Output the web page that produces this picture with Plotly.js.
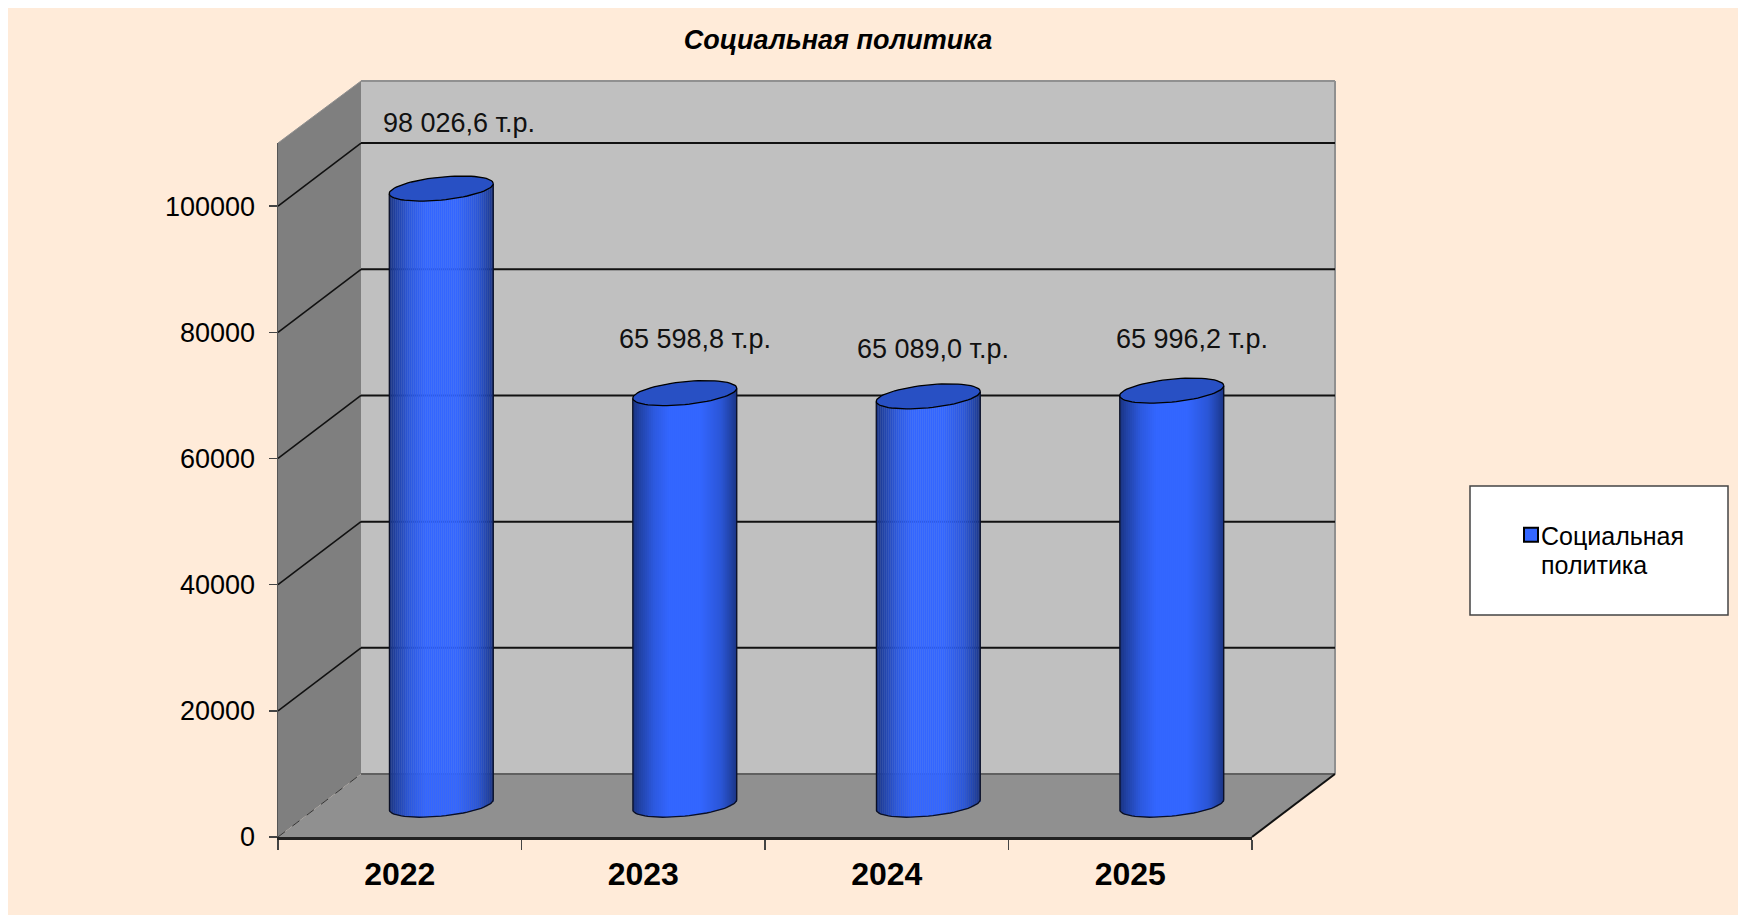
<!DOCTYPE html>
<html>
<head>
<meta charset="utf-8">
<script src="https://cdn.plot.ly/plotly-3.0.1.min.js"></script>
<style>html,body{margin:0;padding:0;background:#fff}#chart{width:1738px;height:916px}</style>
</head>
<body>
<div id="chart"></div>
<script>
// ---- data ----
const categories = ['2022', '2023', '2024', '2025'];
const values = [98026.6, 65598.8, 65089.0, 65996.2];
const labelTexts = ['98 026,6 т.р.', '65 598,8 т.р.', '65 089,0 т.р.', '65 996,2 т.р.'];
const gridValues = [0, 20000, 40000, 60000, 80000, 100000];
const seriesName = 'Социальная<br>политика';
const chartTitle = 'Социальная политика';
const labelShiftX = [18, 10, 5, 20];
const labelShiftY = [66, 54, 47, 52];

// ---- geometry (canvas pixels) ----
const W = 1738, H = 916;
const front = {x0: 278, x1: 1252, y0: 837, yTop: 143};
const depth = {dx: 83, dy: 63};
const backTop = 81;
const midPlane = {dx: 41.5, y0: 807, pad: 40};
const yMax = 110000;
const pxPerUnit = (front.y0 - front.yTop) / yMax;
const px = x => x / W;
const py = y => 1 - y / H;
const font = 'Liberation Sans, Arial, sans-serif';

// cylinder geometry
const cylWidth = 0.427;                 // in category units
const capRy = 11.5 / pxPerUnit;         // ellipse half height in data units
const tilt = 5 / pxPerUnit;             // rise at right end, data units
const bottomLift = 2.3 / pxPerUnit;

function shade(t) { // t in 0..1 across the cylinder
  const stops = [[0, 0.5], [0.06, 0.64], [0.2, 0.87], [0.35, 1], [0.65, 1], [0.85, 0.84], [0.95, 0.64], [1, 0.52]];
  let k = 1;
  for (let i = 1; i < stops.length; i++) {
    if (t <= stops[i][0]) {
      const a = stops[i - 1], b = stops[i];
      k = a[1] + (b[1] - a[1]) * (t - a[0]) / (b[0] - a[0]);
      break;
    }
  }
  return `rgb(${Math.round(0x33 * k)},${Math.round(0x66 * k)},${Math.round(0xff * k)})`;
}

const idx = categories.map((_, i) => i);
const traces = [];

// real series on the front-plane axes (gives category axis and legend entry)
traces.push({
  type: 'bar', x: categories, y: values, width: 0, name: seriesName, showlegend: true,
  marker: {color: '#3366ff', line: {width: 0}},
  xaxis: 'x', yaxis: 'y', hoverinfo: 'skip'
});

// cylinder bodies as gradient strips on the mid-depth plane
const N = 52;
for (let s = 0; s < N; s++) {
  const t0 = s / N, t1 = (s + 1) / N, tm = (t0 + t1) / 2;
  const d = 2 * tm - 1;
  const topOff = tilt * d;
  const botOff = tilt * d - capRy * Math.sqrt(Math.max(0, 1 - d * d)) + bottomLift;
  traces.push({
    type: 'bar', x: idx, y: values.map(v => v + topOff - botOff), base: values.map(() => botOff),
    offset: -cylWidth / 2 + t0 * cylWidth, width: cylWidth / N * 1.15,
    marker: {color: shade(tm), line: {width: 0}},
    xaxis: 'x2', yaxis: 'y2', showlegend: false, hoverinfo: 'skip'
  });
}

// outlines and caps
const TH = [];
for (let a = 0; a <= 72; a++) TH.push(a / 72 * 2 * Math.PI);
values.forEach((v, i) => {
  const xs = [], ys = [];
  xs.push(i - cylWidth / 2); ys.push(v - tilt);
  for (let a = 0; a <= 36; a++) {
    const th = Math.PI * a / 36;
    const c = -Math.cos(th);
    xs.push(i + c * cylWidth / 2);
    ys.push(tilt * c - capRy * Math.sin(th) + bottomLift);
  }
  xs.push(i + cylWidth / 2); ys.push(v + tilt);
  traces.push({type: 'scatter', mode: 'lines', x: xs, y: ys, line: {color: '#0a0f24', width: 1.3},
    xaxis: 'x2', yaxis: 'y2', showlegend: false, hoverinfo: 'skip'});
  traces.push({
    type: 'scatter', mode: 'lines', fill: 'toself', fillcolor: '#2850c4',
    x: TH.map(th => i + Math.cos(th) * cylWidth / 2),
    y: TH.map(th => v + tilt * Math.cos(th) + capRy * Math.sin(th)),
    line: {color: '#000', width: 1.3},
    xaxis: 'x2', yaxis: 'y2', showlegend: false, hoverinfo: 'skip'
  });
});

// ---- walls ----
function poly(pts, fill, line) {
  return {
    type: 'path', xref: 'paper', yref: 'paper', layer: 'below',
    path: 'M' + pts.map(p => px(p[0]) + ',' + py(p[1])).join('L') + 'Z',
    fillcolor: fill, line: line || {width: 0}
  };
}
function seg(x0, y0, x1, y1, color, width, dash) {
  return {
    type: 'line', xref: 'paper', yref: 'paper', layer: 'below',
    x0: px(x0), y0: py(y0), x1: px(x1), y1: py(y1),
    line: {color: color, width: width, dash: dash || 'solid'}
  };
}
const backL = front.x0 + depth.dx, backR = front.x1 + depth.dx;
const backBottom = front.y0 - depth.dy;
const shapes = [
  {type: 'rect', xref: 'paper', yref: 'paper', layer: 'below', x0: px(8), x1: 1, y0: py(915), y1: py(8),
    fillcolor: '#ffebd9', line: {width: 0}},
  poly([[backL, backTop], [backR, backTop], [backR, backBottom], [backL, backBottom]], '#c0c0c0'),
  poly([[front.x0, front.yTop], [backL, backTop], [backL, backBottom], [front.x0, front.y0]], '#7f7f7f'),
  poly([[front.x0, front.y0], [backL, backBottom], [backR, backBottom], [front.x1, front.y0]], '#909090'),
  seg(backL, backTop, backR, backTop, '#909090', 2),
  seg(backR, backTop, backR, backBottom, '#909090', 2),
  seg(front.x0, front.yTop, backL, backTop, '#909090', 1),
  seg(backL, backBottom, backR, backBottom, '#606060', 2),
  seg(front.x0, front.y0, backL, backBottom, '#333333', 1, 'dash'),
  seg(front.x1, front.y0, backR, backBottom, '#111111', 2),
  {type: 'rect', xref: 'paper', yref: 'paper', layer: 'below', x0: px(1470), x1: px(1728), y0: py(615), y1: py(486),
    fillcolor: '#ffffff', line: {color: '#444444', width: 1.5}}
];
gridValues.slice(1).forEach(v => {
  const yF = front.y0 - v * pxPerUnit;
  const yB = yF - depth.dy;
  shapes.push(seg(backL, yB, backR, yB, '#111111', 2));
  shapes.push(seg(front.x0, yF, backL, yB, '#111111', 1.6));
});

// ---- value labels ----
const annotations = values.map((v, i) => ({
  xref: 'x2', yref: 'y2', x: i, y: v, text: labelTexts[i], showarrow: false,
  xanchor: 'center', yanchor: 'middle', xshift: labelShiftX[i], yshift: labelShiftY[i],
  font: {family: font, size: 27, color: '#111'}
}));

const layout = {
  width: W, height: H, margin: {l: 0, r: 0, t: 0, b: 0}, autosize: false,
  paper_bgcolor: '#ffffff', plot_bgcolor: 'rgba(0,0,0,0)',
  barmode: 'overlay', showlegend: true, hovermode: false,
  title: {
    text: '<b><i>' + chartTitle + '</i></b>', x: 838 / W, xanchor: 'center', xref: 'paper',
    y: py(40), yanchor: 'middle', yref: 'paper',
    font: {family: font, size: 27, color: '#000'}
  },
  xaxis: {
    type: 'category', categoryorder: 'array', categoryarray: categories,
    domain: [px(front.x0), px(front.x1)], range: [-0.5, 3.5], anchor: 'y',
    tickson: 'boundaries', ticks: 'outside', ticklen: 10, tickwidth: 1.5, tickcolor: '#444',
    showline: true, linecolor: '#222', linewidth: 2.5, showgrid: false, zeroline: false, fixedrange: true,
    tickfont: {family: font, size: 32, color: '#000', weight: 'bold'}, ticklabelstandoff: 7
  },
  yaxis: {
    domain: [py(front.y0), py(front.yTop)], range: [0, yMax], anchor: 'x',
    tickmode: 'array', tickvals: gridValues, ticktext: gridValues.map(String),
    ticks: 'outside', ticklen: 8, tickwidth: 1.5, tickcolor: '#444',
    showline: true, linecolor: '#555', linewidth: 1.5, showgrid: false, zeroline: false, fixedrange: true,
    tickfont: {family: font, size: 27, color: '#000'}, ticklabelstandoff: 8
  },
  xaxis2: {
    type: 'linear', domain: [px(front.x0 + midPlane.dx), px(front.x1 + midPlane.dx)], range: [-0.5, 3.5],
    anchor: 'y2', visible: false, fixedrange: true
  },
  yaxis2: {
    domain: [py(midPlane.y0 + midPlane.pad), py(midPlane.y0 - yMax * pxPerUnit)],
    range: [-midPlane.pad / pxPerUnit, yMax],
    anchor: 'x2', visible: false, fixedrange: true
  },
  legend: {
    x: px(1501), y: py(512), xanchor: 'left', yanchor: 'top', valign: 'top',
    bgcolor: 'rgba(0,0,0,0)', borderwidth: 0,
    font: {family: font, size: 25, color: '#000'}
  },
  shapes: shapes,
  annotations: annotations
};

Plotly.newPlot('chart', traces, layout, {displayModeBar: false, staticPlot: true}).then(() => {
  // legend swatch: framed, closer to its text
  const swatch = document.querySelector('.legendpoints path');
  if (swatch) {
    swatch.setAttribute('d', 'm7,7H-7V-7H7Z');
    swatch.style.stroke = '#000';
    swatch.style.strokeWidth = '2px';
  }
  const sym = document.querySelector('.legendsymbols');
  if (sym) sym.setAttribute('transform', 'translate(10,0)');
  const lines = document.querySelectorAll('.legendtext tspan.line');
  if (lines.length > 1) lines[1].setAttribute('dy', '29px');
});
</script>
</body>
</html>
